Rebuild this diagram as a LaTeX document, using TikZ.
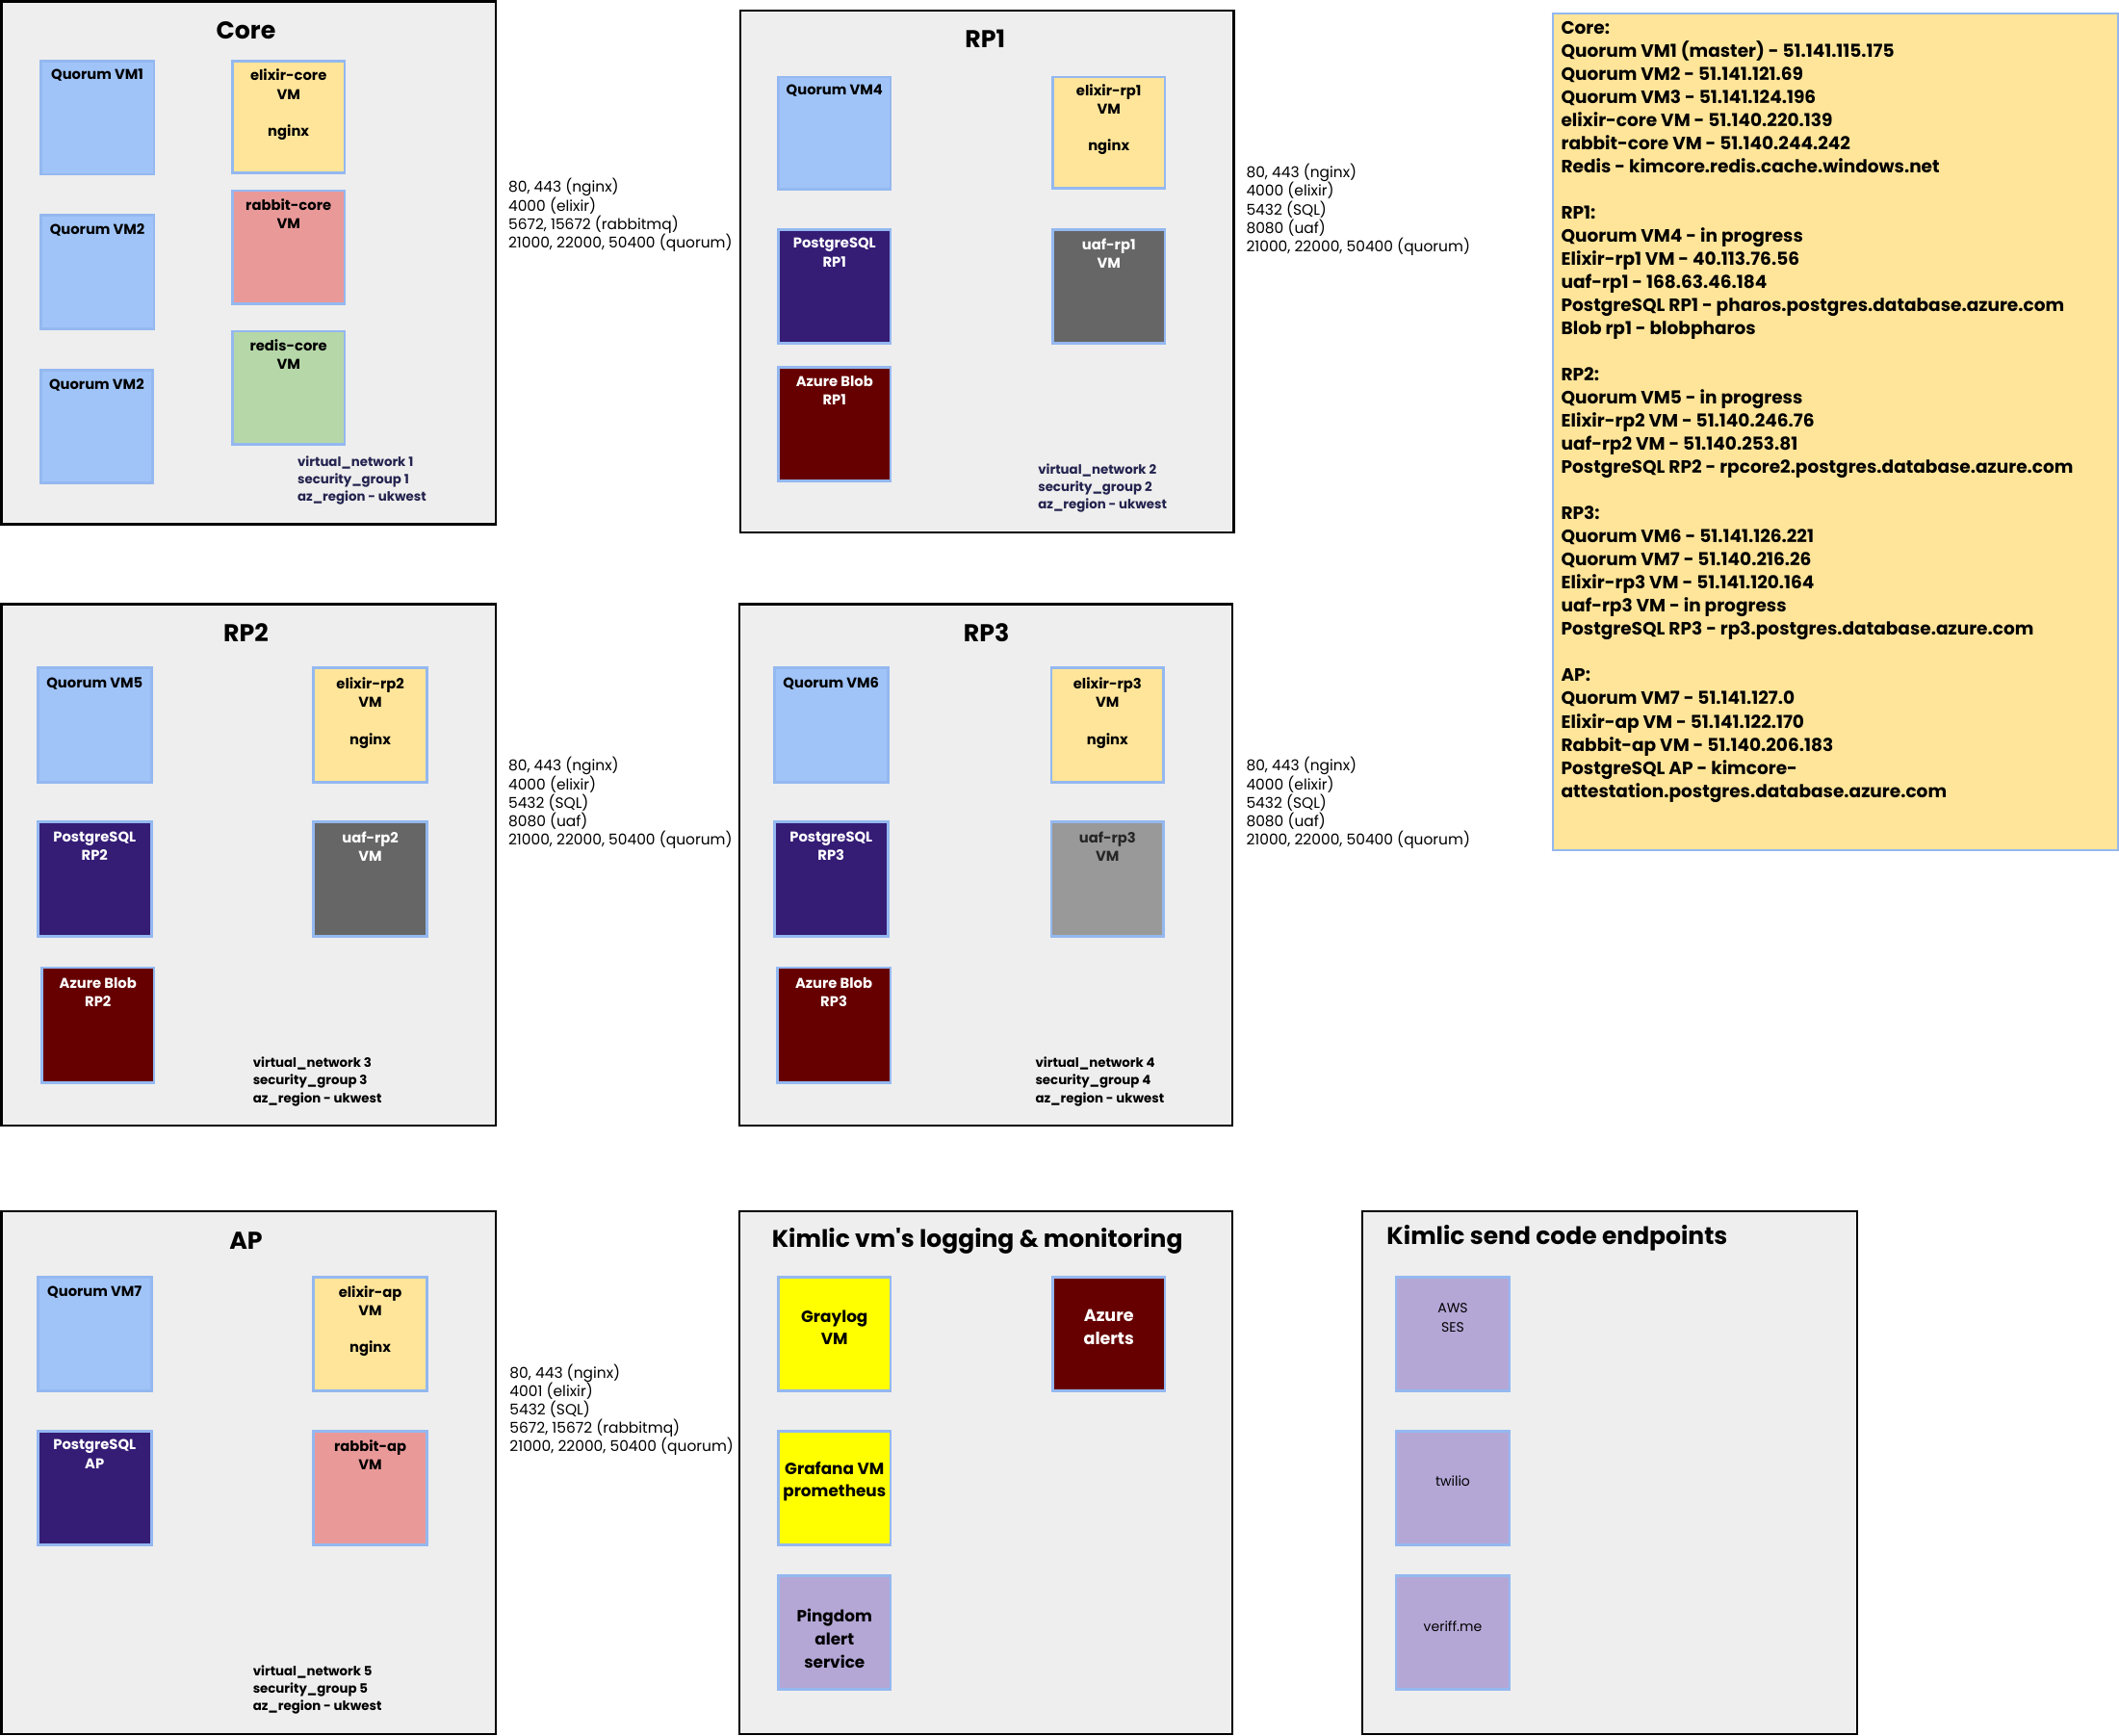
\documentclass[tikz,border=0pt]{standalone}
\usepackage{fontspec}
\setmainfont{Poppins}
\newfontfamily\rawpop{Poppins}
\definecolor{grpbg}{HTML}{EEEEEE}
\definecolor{vmline}{HTML}{94B8F0}
\definecolor{quorumc}{HTML}{A0C4F8}
\definecolor{elixirc}{HTML}{FFE599}
\definecolor{rabbitc}{HTML}{EA9999}
\definecolor{redisc}{HTML}{B6D7A8}
\definecolor{pgc}{HTML}{351C75}
\definecolor{uafc}{HTML}{666666}
\definecolor{uaflc}{HTML}{999999}
\definecolor{blobc}{HTML}{660000}
\definecolor{yelc}{HTML}{FFFF00}
\definecolor{purc}{HTML}{B4A7D6}
\definecolor{navy}{HTML}{23234F}
\newcommand{\grp}[5]{\node[grp, minimum width={#4-#2}, minimum height={#5-#3}] (#1) at ({(#2+#4)/2},{(#3+#5)/2}) {};}
\newcommand{\vmb}[8]{%
  \node[vm,#6,minimum width={#4-#2},minimum height={#5-#3}] (#1) at ({(#2+#4)/2},{(#3+#5)/2}) {};
  \node[vmtxt, #6 txt] (#1-t) at ({(#2+#4)/2},{#8-3.9}) {#7};}
\begin{document}
\begin{tikzpicture}[x=1pt,y=-1pt,
  grp/.style={draw=black, line width=1.7pt, fill=grpbg, inner sep=0pt},
  vm/.style={draw=vmline, line width=2pt, inner sep=0pt},
  vmtxt/.style={anchor=north, inner sep=0pt, align=center, font=\fontsize{10.5}{13.7}\selectfont\bfseries},
  quorum/.style={fill=quorumc}, quorum txt/.style={text=black},
  elixir/.style={fill=elixirc}, elixir txt/.style={text=black},
  rabbit/.style={fill=rabbitc}, rabbit txt/.style={text=black},
  redis/.style={fill=redisc}, redis txt/.style={text=black},
  pg/.style={fill=pgc}, pg txt/.style={text=white},
  uaf/.style={fill=uafc}, uaf txt/.style={text=white},
  uafl/.style={fill=uaflc}, uafl txt/.style={text=black!85},
  blob/.style={fill=blobc}, blob txt/.style={text=white},
  graylog/.style={fill=yelc}, graylog txt/.style={text=black, font=\fontsize{12}{17}\selectfont\bfseries},
  azalert/.style={fill=blobc}, azalert txt/.style={text=white, font=\fontsize{12.5}{17}\selectfont\bfseries},
  ping/.style={fill=purc}, ping txt/.style={text=black, font=\fontsize{12}{17}\selectfont\bfseries},
  ext/.style={fill=purc}, ext txt/.style={text=black, font=\fontsize{10}{14}\selectfont},
  title/.style={anchor=base, inner sep=0pt, font=\fontsize{18}{20}\selectfont\bfseries},
  ktitle/.style={anchor=base west, inner sep=0pt, font=\fontsize{17.8}{20}\selectfont\bfseries},
  net/.style={anchor=north west, inner sep=0pt, align=left, font=\fontsize{9.5}{13}\selectfont\bfseries},
  ports/.style={anchor=north west, inner sep=0pt, align=left, font=\fontsize{11}{13.7}\selectfont},
  panel/.style={draw=vmline, line width=1.5pt, fill=elixirc, inner sep=0pt},
  paneltxt/.style={anchor=north west, inner sep=0pt, align=left, font=\fontsize{13.2}{17.1}\selectfont\bfseries}
]
\useasboundingbox (0,0) rectangle (1568,1284);
% groups
\grp{core}{1}{1}{367}{388}
\grp{rp1}{548}{8}{913}{394}
\grp{rp2}{1}{447}{367}{833}
\grp{rp3}{547}{447}{912}{833}
\grp{ap}{1}{896}{367}{1283}
\grp{logmon}{547}{896}{912}{1283}
\grp{sendcode}{1008}{896}{1374}{1283}
% titles
\node[title] (core-title) at (182,28.5) {Core};
\node[title] (rp1-title) at (729,35.5) {RP1};
\node[title] (rp2-title) at (182,474.5) {RP2};
\node[title] (rp3-title) at (730,474.5) {RP3};
\node[title] (ap-title) at (182,924.5) {AP};
\node[ktitle] (logmon-title) at (571,923) {Kimlic vm{\rawpop\bfseries '}s logging \& monitoring};
\node[ktitle] (sendcode-title) at (1026,921) {Kimlic send code endpoints};
% Core
\vmb{q1}{30}{45}{114}{129}{quorum}{Quorum VM1}{55}
\vmb{q2}{30}{159}{114}{243}{quorum}{Quorum VM2}{169}
\vmb{q3}{30}{274}{113}{357}{quorum}{Quorum VM2}{284}
\vmb{ecore}{172}{45}{255}{128}{elixir}{elixir-core\\VM\\[13.7pt]nginx}{55}
\vmb{rcore}{172}{141}{255}{225}{rabbit}{rabbit-core\\VM}{151}
\vmb{redis}{172}{245}{255}{329}{redis}{redis-core\\VM}{255}
\node[net, text=navy] (core-net) at (220,337) {virtual\_network 1\\security\_group 1\\az\_region - ukwest};
% RP1
\vmb{q4}{576}{57}{659}{140}{quorum}{Quorum VM4}{66}
\vmb{erp1}{779}{57}{862}{139}{elixir}{elixir-rp1\\VM\\[13.7pt]nginx}{66}
\vmb{pg1}{576}{170}{659}{254}{pg}{PostgreSQL\\RP1}{180}
\vmb{uaf1}{779}{170}{862}{254}{uaf}{uaf-rp1\\VM}{180}
\vmb{blob1}{576}{272}{659}{356}{blob}{Azure Blob\\RP1}{282}
\node[net, text=navy] (rp1-net) at (768,343) {virtual\_network 2\\security\_group 2\\az\_region - ukwest};
% RP2
\vmb{q5}{28}{494}{112}{579}{quorum}{Quorum VM5}{505}
\vmb{erp2}{232}{494}{316}{579}{elixir}{elixir-rp2\\VM\\[13.7pt]nginx}{505}
\vmb{pg2}{28}{608}{112}{693}{pg}{PostgreSQL\\RP2}{619}
\vmb{uaf2}{232}{608}{316}{693}{uaf}{uaf-rp2\\VM}{619}
\vmb{blob2}{31}{716}{114}{801}{blob}{Azure Blob\\RP2}{727}
\node[net] (rp2-net) at (187,782) {virtual\_network 3\\security\_group 3\\az\_region - ukwest};
% RP3
\vmb{q6}{573}{494}{657}{579}{quorum}{Quorum VM6}{505}
\vmb{erp3}{778}{494}{861}{579}{elixir}{elixir-rp3\\VM\\[13.7pt]nginx}{505}
\vmb{pg3}{573}{608}{657}{693}{pg}{PostgreSQL\\RP3}{619}
\vmb{uaf3}{778}{608}{861}{693}{uafl}{uaf-rp3\\VM}{619}
\vmb{blob3}{575}{716}{659}{801}{blob}{Azure Blob\\RP3}{727}
\node[net] (rp3-net) at (766,782) {virtual\_network 4\\security\_group 4\\az\_region - ukwest};
% AP
\vmb{q7}{28}{945}{112}{1029}{quorum}{Quorum VM7}{955}
\vmb{eap}{232}{945}{316}{1029}{elixir}{elixir-ap\\VM\\[13.7pt]nginx}{955}
\vmb{pgap}{28}{1059}{112}{1143}{pg}{PostgreSQL\\AP}{1069}
\vmb{rap}{232}{1059}{316}{1143}{rabbit}{rabbit-ap\\VM}{1069}
\node[net] (ap-net) at (187,1232) {virtual\_network 5\\security\_group 5\\az\_region - ukwest};
% logging & monitoring
\vmb{gray}{576}{945}{659}{1029}{graylog}{Graylog\\VM}{973}
\vmb{azal}{779}{945}{862}{1029}{azalert}{Azure\\alerts}{973}
\vmb{graf}{576}{1059}{659}{1143}{graylog}{Grafana VM\\prometheus}{1085}
\vmb{ping}{576}{1166}{659}{1250}{ping}{Pingdom\\alert\\service}{1194}
% send code endpoints
\vmb{aws}{1033}{945}{1117}{1029}{ext}{AWS\\SES}{968}
\vmb{twilio}{1033}{1059}{1117}{1143}{ext}{twilio}{1096}
\vmb{veriff}{1033}{1166}{1117}{1250}{ext}{veriff.me}{1203}
% ports
\node[ports] (ports-core) at (376,132) {80, 443 (nginx)\\4000 (elixir)\\5672, 15672 (rabbitmq)\\21000, 22000, 50400 (quorum)};
\node[ports] (ports-rp1) at (922,121) {80, 443 (nginx)\\4000 (elixir)\\5432 (SQL)\\8080 (uaf)\\21000, 22000, 50400 (quorum)};
\node[ports] (ports-rp2) at (376,560) {80, 443 (nginx)\\4000 (elixir)\\5432 (SQL)\\8080 (uaf)\\21000, 22000, 50400 (quorum)};
\node[ports] (ports-rp3) at (922,560) {80, 443 (nginx)\\4000 (elixir)\\5432 (SQL)\\8080 (uaf)\\21000, 22000, 50400 (quorum)};
\node[ports] (ports-ap) at (377,1009) {80, 443 (nginx)\\4001 (elixir)\\5432 (SQL)\\5672, 15672 (rabbitmq)\\21000, 22000, 50400 (quorum)};
% notes panel
\node[panel, minimum width=418, minimum height=619] (notes) at (1358,319.5) {};
\node[paneltxt] (notes-t) at (1155,16) {Core:\\
Quorum VM1 (master) - 51.141.115.175\\
Quorum VM2 - 51.141.121.69\\
Quorum VM3 - 51.141.124.196\\
elixir-core VM - 51.140.220.139\\
rabbit-core VM - 51.140.244.242\\
Redis - kimcore.redis.cache.windows.net\\[17.1pt]
RP1:\\
Quorum VM4 - in progress\\
Elixir-rp1 VM - 40.113.76.56\\
uaf-rp1 - 168.63.46.184\\
PostgreSQL RP1 - pharos.postgres.database.azure.com\\
Blob rp1 - blobpharos\\[17.1pt]
RP2:\\
Quorum VM5 - in progress\\
Elixir-rp2 VM - 51.140.246.76\\
uaf-rp2 VM - 51.140.253.81\\
PostgreSQL RP2 - rpcore2.postgres.database.azure.com\\[17.1pt]
RP3:\\
Quorum VM6 - 51.141.126.221\\
Quorum VM7 - 51.140.216.26\\
Elixir-rp3 VM - 51.141.120.164\\
uaf-rp3 VM - in progress\\
PostgreSQL RP3 - rp3.postgres.database.azure.com\\[17.1pt]
AP:\\
Quorum VM7 - 51.141.127.0\\
Elixir-ap VM - 51.141.122.170\\
Rabbit-ap VM - 51.140.206.183\\
PostgreSQL AP - kimcore-\\
attestation.postgres.database.azure.com};
\end{tikzpicture}
\end{document}
